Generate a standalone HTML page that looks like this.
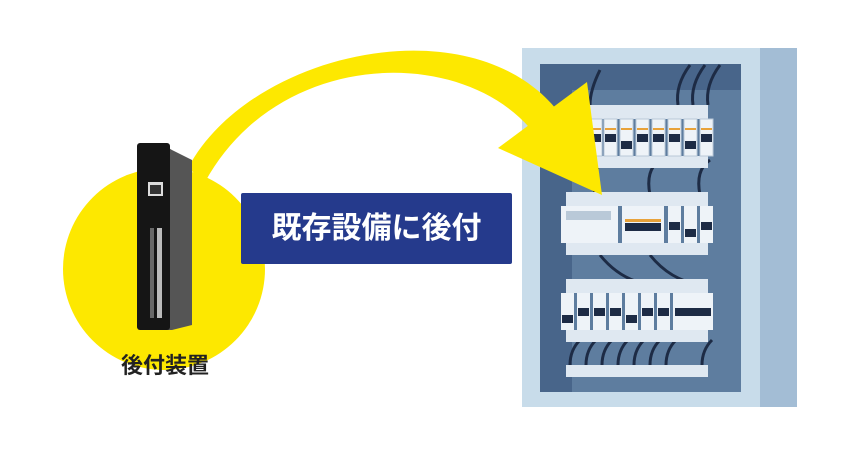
<!DOCTYPE html>
<html><head><meta charset="utf-8"><style>
body{margin:0;width:860px;height:457px;background:#fff;overflow:hidden;position:relative;font-family:"Liberation Sans","Noto Sans CJK JP",sans-serif}
.a{position:absolute}
</style></head><body>
<svg class="a" style="left:0;top:0" width="860" height="457">
<rect x="522" y="48" width="275" height="359" fill="#c8dcea"/>
<rect x="760" y="48" width="37" height="359" fill="#a3bdd5"/>
<rect x="540" y="64" width="201" height="328" fill="#48658a"/>
<rect x="572" y="90" width="169" height="302" fill="#5e7d9f"/>
<g fill="none" stroke="#1d2b45" stroke-width="3">
<path d="M600 70 q-10 20 -10 35"/><path d="M690 65 q-15 20 -12 40"/><path d="M705 65 q-15 20 -12 40"/><path d="M720 65 q-15 20 -12 40"/>
<path d="M605 160 q-15 10 -10 35"/><path d="M660 160 q-15 10 -10 35"/><path d="M710 160 q-15 10 -10 35"/>
<path d="M600 255 q20 25 50 30"/><path d="M650 255 q20 25 50 30"/>
<path d="M580 340 q-10 10 -10 25"/><path d="M596 340 q-10 10 -10 25"/><path d="M612 340 q-10 10 -10 25"/><path d="M628 340 q-10 10 -10 25"/><path d="M644 340 q-10 10 -10 25"/><path d="M660 340 q-10 10 -10 25"/><path d="M676 340 q-10 10 -10 25"/><path d="M712 340 q-10 10 -10 25"/>
</g>
<rect x="572" y="105" width="136" height="14" fill="#dfe8f1"/><rect x="572" y="156" width="136" height="12" fill="#dfe8f1"/>
<g fill="#eef3f8" stroke="#b9c9d8">
<rect x="589" y="119" width="13" height="37"/><rect x="604" y="119" width="13" height="37"/><rect x="620" y="119" width="13" height="37"/><rect x="636" y="119" width="13" height="37"/><rect x="652" y="119" width="13" height="37"/><rect x="668" y="119" width="13" height="37"/><rect x="684" y="119" width="13" height="37"/><rect x="700" y="119" width="13" height="37"/>
</g>
<g fill="#e8a23a"><rect x="590" y="128" width="11" height="2"/><rect x="605" y="128" width="11" height="2"/><rect x="621" y="128" width="11" height="2"/><rect x="637" y="128" width="11" height="2"/><rect x="653" y="128" width="11" height="2"/><rect x="669" y="128" width="11" height="2"/><rect x="685" y="128" width="11" height="2"/><rect x="701" y="128" width="11" height="2"/></g>
<g fill="#1d2b45"><rect x="590" y="134" width="11" height="8"/><rect x="605" y="134" width="11" height="8"/><rect x="621" y="141" width="11" height="8"/><rect x="637" y="134" width="11" height="8"/><rect x="653" y="134" width="11" height="8"/><rect x="669" y="134" width="11" height="8"/><rect x="685" y="141" width="11" height="8"/><rect x="701" y="134" width="11" height="8"/></g>
<rect x="566" y="192" width="142" height="14" fill="#dfe8f1"/><rect x="566" y="243" width="142" height="12" fill="#dfe8f1"/>
<rect x="561" y="206" width="57" height="37" fill="#eef3f8"/><rect x="566" y="211" width="45" height="9" fill="#b9c9d8"/>
<rect x="622" y="206" width="42" height="37" fill="#eef3f8"/><rect x="625" y="219" width="36" height="3" fill="#e8a23a"/><rect x="625" y="223" width="36" height="8" fill="#1d2b45"/>
<rect x="668" y="206" width="13" height="37" fill="#eef3f8"/><rect x="684" y="206" width="13" height="37" fill="#eef3f8"/><rect x="700" y="206" width="13" height="37" fill="#eef3f8"/>
<g fill="#1d2b45"><rect x="669" y="222" width="11" height="8"/><rect x="685" y="229" width="11" height="8"/><rect x="701" y="222" width="11" height="8"/></g>
<rect x="566" y="279" width="142" height="14" fill="#dfe8f1"/><rect x="566" y="330" width="142" height="12" fill="#dfe8f1"/>
<g fill="#eef3f8"><rect x="561" y="293" width="13" height="37"/><rect x="577" y="293" width="13" height="37"/><rect x="593" y="293" width="13" height="37"/><rect x="609" y="293" width="13" height="37"/><rect x="625" y="293" width="13" height="37"/><rect x="641" y="293" width="13" height="37"/><rect x="657" y="293" width="13" height="37"/><rect x="673" y="293" width="40" height="37"/></g>
<g fill="#1d2b45"><rect x="562" y="315" width="11" height="8"/><rect x="578" y="308" width="11" height="8"/><rect x="594" y="308" width="11" height="8"/><rect x="610" y="308" width="11" height="8"/><rect x="626" y="315" width="11" height="8"/><rect x="642" y="308" width="11" height="8"/><rect x="658" y="308" width="11" height="8"/><rect x="675" y="308" width="36" height="8"/></g>
<rect x="566" y="365" width="142" height="12" fill="#dfe8f1"/>
<circle cx="164" cy="269" r="101" fill="#fde800"/>
<path d="M188 168 C250 50 480 0 563 118 L537 137 C470 45 280 45 205 182 Z" fill="#fde800"/>
<polygon points="498,148 587,82 602,195" fill="#fde800"/>
<polygon points="160,143 172,150 192,160 192,325 172,330 160,330" fill="#555"/>
<rect x="137" y="143" width="33" height="187" rx="3" fill="#151515"/>
<rect x="148" y="182" width="15" height="14" fill="#ddd"/><rect x="150" y="185" width="11" height="9" fill="#333"/>
<g fill="#bbb"><rect x="157" y="228" width="5" height="90"/><rect x="150" y="228" width="4" height="90" opacity=".5"/></g>
<rect x="241" y="193" width="271" height="71" rx="2" fill="#253a8c"/>
</svg>
<div class="a" style="left:241px;top:193px;width:271px;height:71px;line-height:71px;text-align:center;color:#fff;font-size:30px;font-weight:bold">既存設備に後付</div>
<div class="a" style="left:100px;top:348px;width:130px;text-align:center;color:#222;font-size:22px;font-weight:bold">後付装置</div>
</body></html>
